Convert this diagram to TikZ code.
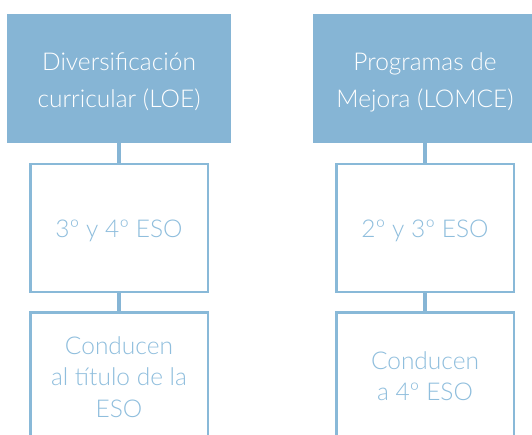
\documentclass[tikz,border=0pt]{standalone}
\usepackage{fontspec}
\IfFontExistsTF{Lato Light}{\setmainfont{Lato Light}}{\setmainfont{Liberation Sans}}
\definecolor{hdr}{RGB}{134,181,213}
\definecolor{brd}{RGB}{137,185,216}
\definecolor{txt}{RGB}{143,190,221}
\begin{document}
\begin{tikzpicture}[x=1pt,y=-1pt,
  head/.style={fill=hdr, draw=none, minimum width=224pt, minimum height=129pt, inner sep=0pt},
  headtext/.style={text=white, align=center, inner sep=0pt, font=\fontsize{24.5}{37}\selectfont},
  stepbox/.style={draw=brd, line width=2.5pt, fill=white, minimum width=177.5pt,
    minimum height=127.5pt, inner sep=0pt},
  label/.style={text=txt, align=center, inner sep=0pt, font=\fontsize{24.5}{31.5}\selectfont},
  link/.style={draw=hdr, line width=4.3pt}]
\useasboundingbox (0,0) rectangle (532,435);
\clip (0,0) rectangle (532,435);
\node[head] (h1) at (119,78.5) {};
\node[head] (h2) at (425,78.5) {};
\node[headtext] (th1) at (119,82) {Diversificación\\curricular (LOE)};
\node[headtext] (th2) at (425,82) {Programas de\\Mejora (LOMCE)};
\node[stepbox] (a1) at (119,228) {};
\node[stepbox] (a2) at (119,376) {};
\node[stepbox] (b1) at (425,228) {};
\node[stepbox] (b2) at (425,376) {};
\draw[link] (h1.south) -- (a1.north);
\draw[link] (a1.south) -- (a2.north);
\draw[link] (h2.south) -- (b1.north);
\draw[link] (b1.south) -- (b2.north);
\node[label] (ta1) at (119,231) {3º y 4º ESO};
\node[label] (ta2) at (119,377) {Conducen\\al título de la\\ESO};
\node[label] (tb1) at (425,231) {2º y 3º ESO};
\node[label] (tb2) at (425,376) {Conducen\\a 4º ESO};
\end{tikzpicture}
\end{document}
